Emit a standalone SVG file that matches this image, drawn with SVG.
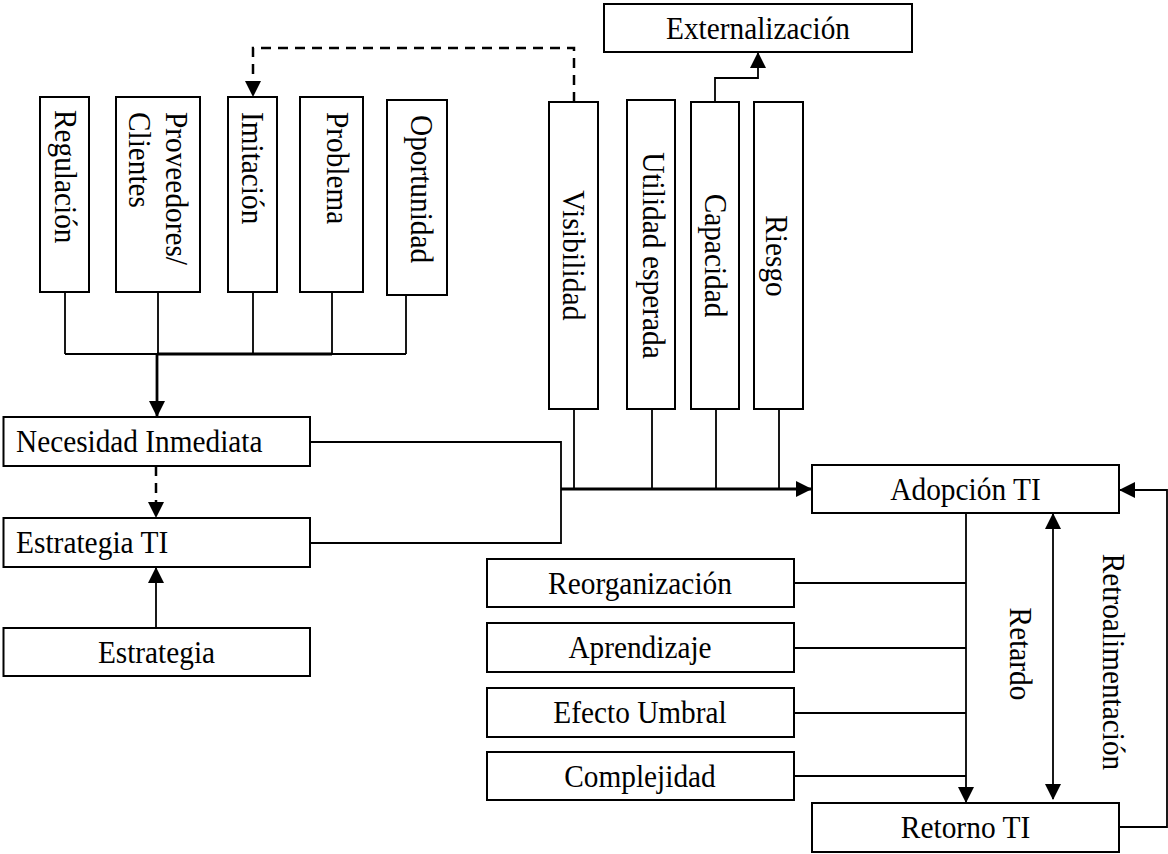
<svg xmlns="http://www.w3.org/2000/svg" width="1168" height="854" viewBox="0 0 1168 854">
<defs>
<style>
.box{fill:#fff;stroke:#000;stroke-width:2}
.t{font-family:"Liberation Serif","Times New Roman",serif;font-size:31px;fill:#000}
.m{text-anchor:middle}
.ln{fill:none;stroke:#000;stroke-width:1.8}
.thk{fill:none;stroke:#000;stroke-width:2.8}
.dash{fill:none;stroke:#000;stroke-width:2.5;stroke-dasharray:10 7}
</style>
<marker id="ah" viewBox="0 0 16 16" markerUnits="userSpaceOnUse" markerWidth="16" markerHeight="16" refX="15" refY="8" orient="auto-start-reverse">
<path d="M0,0 L16,8 L0,16 z" fill="#000"/>
</marker>
</defs>
<rect width="1168" height="854" fill="#fff"/>

<g id="connectors">
<path class="ln" d="M65,292 V354 M158,292 V354 M253,292 V354 M332,292 V354 M406,295 V354 M65,354 H406"/>
<path class="thk" d="M157,354 H332"/>
<path class="thk" d="M157,354 V416" marker-end="url(#ah)"/>
<path class="dash" d="M574,102 V48 H253 V96" marker-end="url(#ah)"/>
<path class="dash" d="M156,466 V517" marker-end="url(#ah)"/>
<path class="ln" d="M156,628 V568" marker-end="url(#ah)"/>
<path class="ln" d="M310,442 H561 V543 H310"/>
<path class="ln" d="M574,409 V489 M652,409 V489 M716,409 V489 M779,409 V489"/>
<path class="thk" d="M561,489 H811" marker-end="url(#ah)"/>
<path class="ln" d="M715,102 V78 H758 V53" marker-end="url(#ah)"/>
<path class="ln" d="M794,583 H966 M794,648 H966 M794,713 H966 M794,776 H966"/>
<path class="ln" d="M966,513 V802" marker-end="url(#ah)"/>
<path class="ln" d="M1053,514 V799" marker-start="url(#ah)" marker-end="url(#ah)"/>
<path class="ln" d="M1119,827 H1167 V490 H1120" marker-end="url(#ah)"/>
</g>

<g id="regulacion"><rect class="box" x="40" y="97" width="49" height="195"/><text class="t" transform="translate(55,110) rotate(90)" textLength="133.5" lengthAdjust="spacingAndGlyphs">Regulación</text></g>
<g id="proveedores"><rect class="box" x="116" y="97" width="84" height="195"/><text class="t" transform="translate(166,112) rotate(90)" textLength="153" lengthAdjust="spacingAndGlyphs">Proveedores/</text><text class="t" transform="translate(129,112) rotate(90)" textLength="96" lengthAdjust="spacingAndGlyphs">Clientes</text></g>
<g id="imitacion"><rect class="box" x="228" y="97" width="49" height="195"/><text class="t" transform="translate(242,112) rotate(90)" textLength="112.3" lengthAdjust="spacingAndGlyphs">Imitación</text></g>
<g id="problema"><rect class="box" x="300" y="97" width="63" height="195"/><text class="t" transform="translate(327,112) rotate(90)" textLength="112.3" lengthAdjust="spacingAndGlyphs">Problema</text></g>
<g id="oportunidad"><rect class="box" x="387" y="100" width="60" height="195"/><text class="t" transform="translate(411,115) rotate(90)" textLength="148.1" lengthAdjust="spacingAndGlyphs">Oportunidad</text></g>

<g id="externalizacion"><rect class="box" x="604" y="4" width="308" height="48"/><text class="t m" x="758" y="38.5" textLength="183.9" lengthAdjust="spacingAndGlyphs">Externalización</text></g>
<g id="visibilidad"><rect class="box" x="549" y="102" width="49" height="307"/><text class="t m" transform="translate(563,255.5) rotate(90)" textLength="130.3" lengthAdjust="spacingAndGlyphs">Visibilidad</text></g>
<g id="utilidad"><rect class="box" x="627" y="100" width="48" height="309"/><text class="t m" transform="translate(643,255.5) rotate(90)" textLength="206.7" lengthAdjust="spacingAndGlyphs">Utilidad esperada</text></g>
<g id="capacidad"><rect class="box" x="691" y="102" width="48" height="307"/><text class="t m" transform="translate(705,255.5) rotate(90)" textLength="123.7" lengthAdjust="spacingAndGlyphs">Capacidad</text></g>
<g id="riesgo"><rect class="box" x="754" y="102" width="49" height="307"/><text class="t m" transform="translate(766,256) rotate(90)" textLength="81.4" lengthAdjust="spacingAndGlyphs">Riesgo</text></g>

<g id="necesidad"><rect class="box" x="3.5" y="417" width="306.5" height="49"/><text class="t" x="16" y="452" textLength="246.5" lengthAdjust="spacingAndGlyphs">Necesidad Inmediata</text></g>
<g id="estrategia-ti"><rect class="box" x="3.5" y="518" width="306.5" height="49"/><text class="t" x="16" y="553" textLength="152.2" lengthAdjust="spacingAndGlyphs">Estrategia TI</text></g>
<g id="estrategia"><rect class="box" x="3.5" y="628" width="306.5" height="48"/><text class="t m" x="156.5" y="662.5" textLength="117.2" lengthAdjust="spacingAndGlyphs">Estrategia</text></g>

<g id="adopcion"><rect class="box" x="812" y="465" width="307" height="48"/><text class="t m" x="965.5" y="499.5" textLength="150.5" lengthAdjust="spacingAndGlyphs">Adopción TI</text></g>
<g id="retorno"><rect class="box" x="812" y="803" width="307" height="49"/><text class="t m" x="965.5" y="838" textLength="129.4" lengthAdjust="spacingAndGlyphs">Retorno TI</text></g>

<g id="reorganizacion"><rect class="box" x="487" y="559" width="307" height="48"/><text class="t m" x="640" y="593.5" textLength="183.9" lengthAdjust="spacingAndGlyphs">Reorganización</text></g>
<g id="aprendizaje"><rect class="box" x="487" y="623" width="307" height="49"/><text class="t m" x="640" y="658" textLength="143.2" lengthAdjust="spacingAndGlyphs">Aprendizaje</text></g>
<g id="efecto-umbral"><rect class="box" x="487" y="688" width="307" height="49"/><text class="t m" x="640" y="723" textLength="173.3" lengthAdjust="spacingAndGlyphs">Efecto Umbral</text></g>
<g id="complejidad"><rect class="box" x="487" y="752" width="307" height="48"/><text class="t m" x="640" y="786.5" textLength="151.4" lengthAdjust="spacingAndGlyphs">Complejidad</text></g>

<g id="labels">
<text class="t m" transform="translate(1010,654) rotate(90)" textLength="92.8" lengthAdjust="spacingAndGlyphs">Retardo</text>
<text class="t m" transform="translate(1103,662) rotate(90)" textLength="216.5" lengthAdjust="spacingAndGlyphs">Retroalimentación</text>
</g>
</svg>
